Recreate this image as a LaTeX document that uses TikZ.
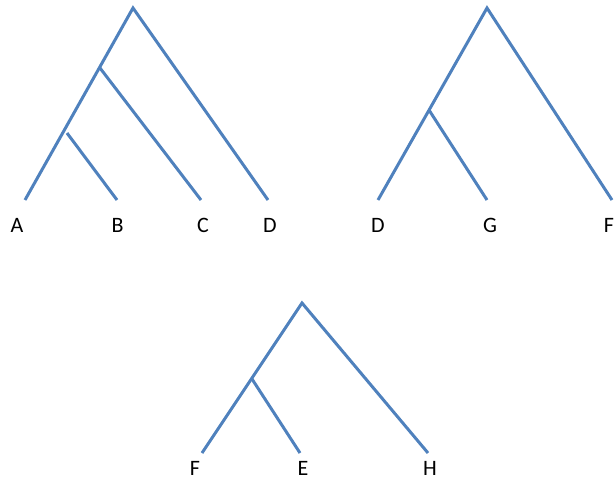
\documentclass[tikz,border=0pt]{standalone}
\usepackage{fontspec}
\setmainfont{Carlito}
\definecolor{branchblue}{RGB}{79,129,189}
\begin{document}
\begin{tikzpicture}[x=1pt,y=-1pt,branch/.style={draw=branchblue,line width=3pt},leaf/.style={font=\fontsize{22}{26}\selectfont,inner sep=0pt}]
\useasboundingbox (0,0) rectangle (616,481);
% first tree
\coordinate (r1) at (133,8);
\coordinate (n1) at (100,68);
\coordinate (m1) at (67,133);
\coordinate (a1) at (25,200);
\coordinate (b1) at (117,200);
\coordinate (c1) at (201,200);
\coordinate (d1) at (268,200);
\draw[branch] (a1) -- (r1) -- (d1);
\draw[branch] (n1) -- (c1);
\draw[branch] (m1) -- (b1);
\node[leaf] (la1) at (17,225.5) {A};
\node[leaf] (lb1) at (117.5,225.5) {B};
\node[leaf] (lc1) at (203,225.5) {C};
\node[leaf] (ld1) at (270,225.5) {D};
% second tree
\coordinate (r2) at (487,8);
\coordinate (n2) at (429,110);
\coordinate (d2) at (378,200);
\coordinate (g2) at (487,200);
\coordinate (f2) at (612,200);
\draw[branch] (d2) -- (r2) -- (f2);
\draw[branch] (n2) -- (g2);
\node[leaf] (ld2) at (378,225.5) {D};
\node[leaf] (lg2) at (490,225.5) {G};
\node[leaf] (lf2) at (609,225.5) {F};
% third tree
\coordinate (r3) at (302,303);
\coordinate (n3) at (252,379);
\coordinate (f3) at (202,453);
\coordinate (e3) at (300,453);
\coordinate (h3) at (428,453);
\draw[branch] (f3) -- (r3) -- (h3);
\draw[branch] (n3) -- (e3);
\node[leaf] (lf3) at (195,468.5) {F};
\node[leaf] (le3) at (303,468.5) {E};
\node[leaf] (lh3) at (430,468.5) {H};
\end{tikzpicture}
\end{document}
